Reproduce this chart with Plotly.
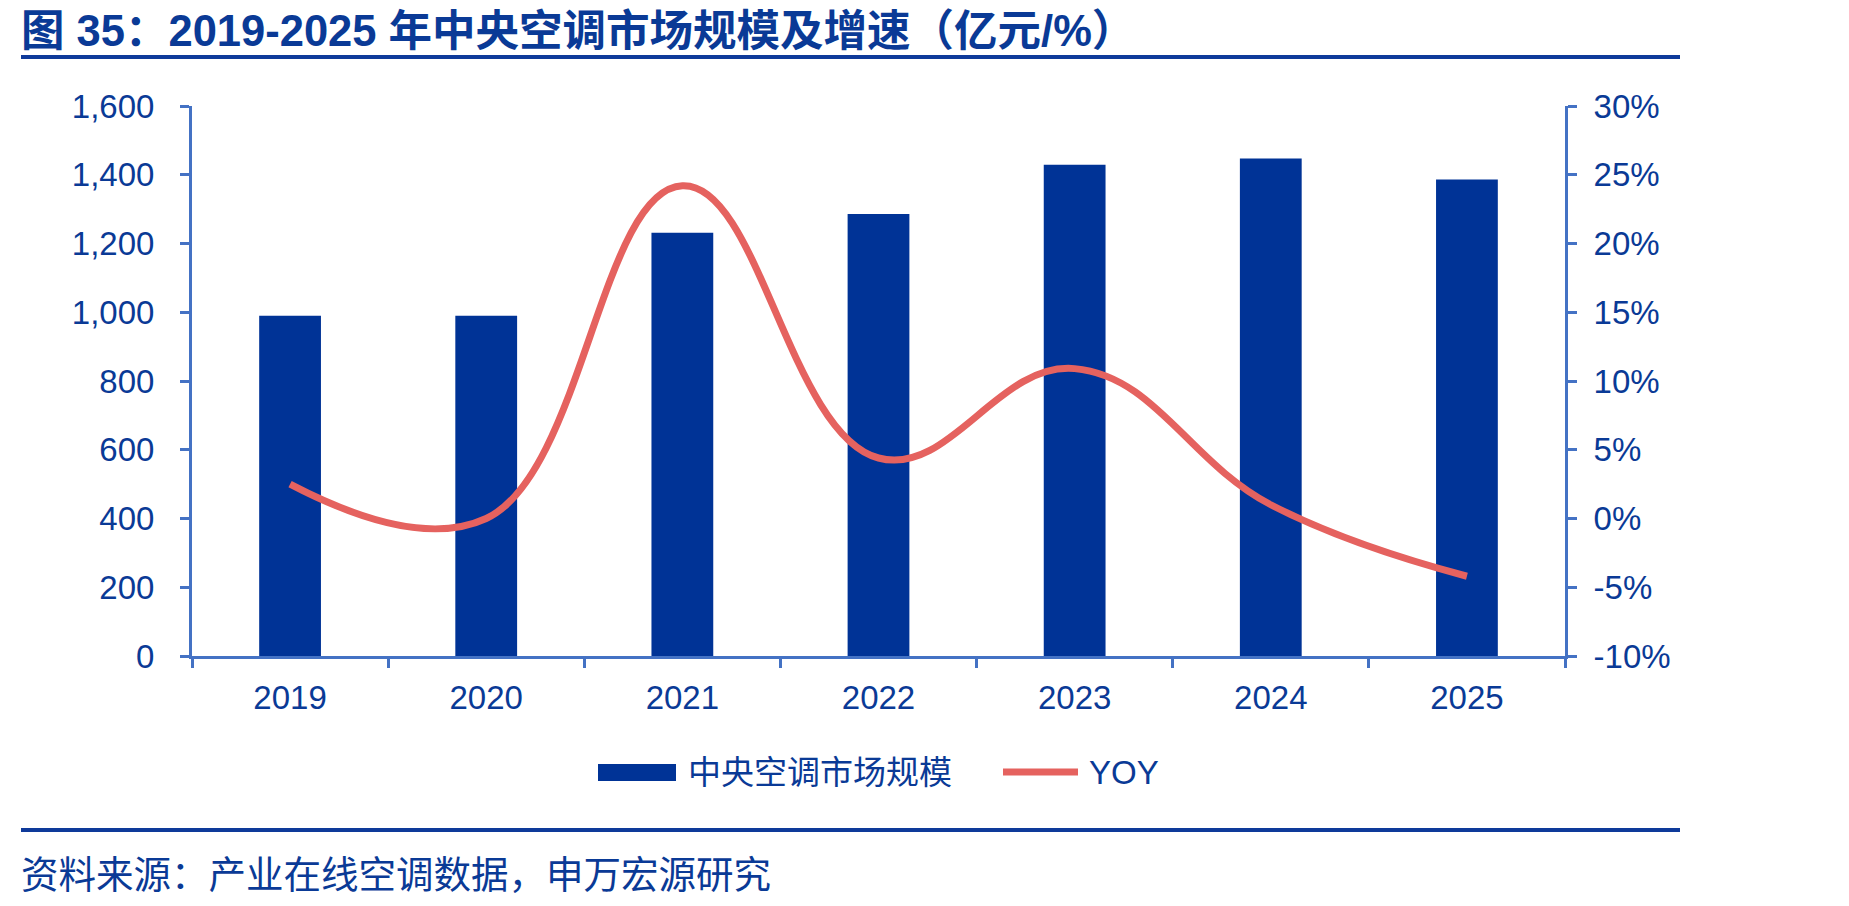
import plotly.graph_objects as go

# ---------------- data ----------------
years = ['2019', '2020', '2021', '2022', '2023', '2024', '2025']
market_size = [990, 990, 1231, 1286, 1429, 1447, 1386]   # 亿元
yoy = [2.5, 0.0, 24.2, 4.4, 10.9, 1.0, -4.2]             # %

left_tickvals = [0, 200, 400, 600, 800, 1000, 1200, 1400, 1600]
left_ticktext = ['0', '200', '400', '600', '800', '1,000', '1,200', '1,400', '1,600']
right_tickvals = [-10, -5, 0, 5, 10, 15, 20, 25, 30]
right_ticktext = ['-10%', '-5%', '0%', '5%', '10%', '15%', '20%', '25%', '30%']

title_text = '图 35：2019-2025 年中央空调市场规模及增速（亿元/%）'
source_text = '资料来源：产业在线空调数据，申万宏源研究'
bar_name = '中央空调市场规模'
line_name = 'YOY'

# ---------------- style ----------------
FIG_W, FIG_H = 1849, 906
L, R, T, B = 192, 1565, 106, 656
BAR_COLOR = '#003396'
LINE_COLOR = '#E5625F'
AXIS_COLOR = '#4472C4'
TEXT_COLOR = '#0A3A96'
RULE_COLOR = '#0E3A9A'
FONT = 'Liberation Sans, Arial, Noto Sans CJK SC, sans-serif'


def px(x):
    return (x - L) / (R - L)


def py(y):
    return (B - y) / (B - T)


fig = go.Figure()
fig.add_trace(go.Bar(x=years, y=market_size, name=bar_name,
                     marker=dict(color=BAR_COLOR, line=dict(width=0))))
fig.add_trace(go.Scatter(x=years, y=yoy, name=line_name, yaxis='y2', mode='lines',
                         line=dict(color=LINE_COLOR, width=7, shape='spline', smoothing=1.2)))

axis_common = dict(showline=True, linecolor=AXIS_COLOR, linewidth=3, ticks='outside',
                   ticklen=9, tickwidth=3, tickcolor=AXIS_COLOR, showgrid=False, zeroline=False,
                   tickfont=dict(family=FONT, size=33, color=TEXT_COLOR))

fig.update_layout(
    width=FIG_W, height=FIG_H, autosize=False,
    margin=dict(l=L, r=FIG_W - R, t=T, b=FIG_H - B, pad=0),
    paper_bgcolor='white', plot_bgcolor='white',
    showlegend=False, bargap=0.685,
    font=dict(family=FONT, color=TEXT_COLOR),
    xaxis=dict(type='category', tickson='boundaries', ticklabelstandoff=10, **axis_common),
    yaxis=dict(range=[0, 1600], tickvals=left_tickvals, ticktext=left_ticktext,
               ticklabelstandoff=19, **axis_common),
    yaxis2=dict(range=[-10, 30], tickvals=right_tickvals, ticktext=right_ticktext,
                overlaying='y', side='right', ticklabelstandoff=10, **axis_common),
)

shapes = [
    dict(type='line', xref='paper', yref='paper', x0=px(21), x1=px(1680), y0=py(57), y1=py(57),
         line=dict(color=RULE_COLOR, width=4)),
    dict(type='line', xref='paper', yref='paper', x0=px(21), x1=px(1680), y0=py(830), y1=py(830),
         line=dict(color=RULE_COLOR, width=4)),
    dict(type='rect', xref='paper', yref='paper', x0=px(598), x1=px(676), y0=py(781), y1=py(764),
         fillcolor=BAR_COLOR, line=dict(width=0)),
    dict(type='line', xref='paper', yref='paper', x0=px(1003), x1=px(1078), y0=py(772), y1=py(772),
         line=dict(color=LINE_COLOR, width=7)),
]
fig.update_layout(shapes=shapes)

annotations = [
    dict(text='<b>' + title_text + '</b>', xref='paper', yref='paper', x=px(19), y=py(31),
         xanchor='left', yanchor='middle', showarrow=False,
         font=dict(family=FONT, size=43.5, color=TEXT_COLOR)),
    dict(text=source_text, xref='paper', yref='paper', x=px(19), y=py(875),
         xanchor='left', yanchor='middle', showarrow=False,
         font=dict(family=FONT, size=37.5, color=TEXT_COLOR)),
    dict(text=bar_name, xref='paper', yref='paper', x=px(686), y=py(772),
         xanchor='left', yanchor='middle', showarrow=False,
         font=dict(family=FONT, size=33, color=TEXT_COLOR)),
    dict(text=line_name, xref='paper', yref='paper', x=px(1087), y=py(772),
         xanchor='left', yanchor='middle', showarrow=False,
         font=dict(family=FONT, size=33, color=TEXT_COLOR)),
]
fig.update_layout(annotations=annotations)

fig.write_html('out.html')
